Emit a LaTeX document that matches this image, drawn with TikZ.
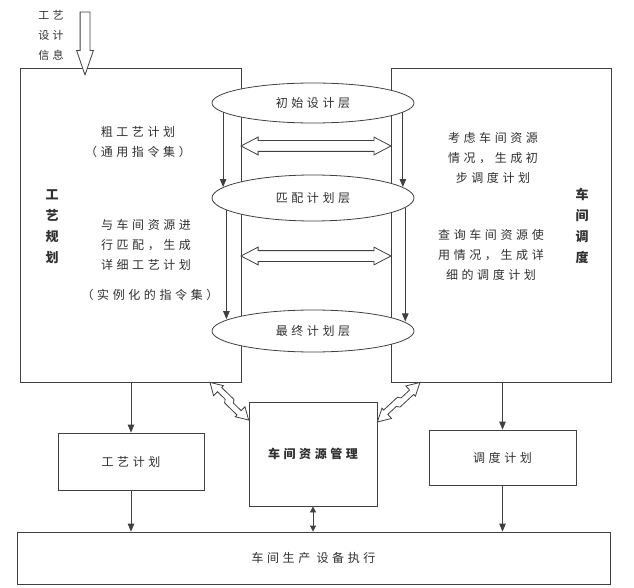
\documentclass[tikz,border=0pt]{standalone}
\usepackage{fontspec}
\setmainfont[LetterSpace=30]{Noto Sans CJK SC}
\usetikzlibrary{shapes.geometric,shapes.arrows,arrows.meta,calc}
\definecolor{ln}{HTML}{404040}
\definecolor{tx}{HTML}{303030}
\tikzset{
 box/.style={draw=ln, fill=white, line width=0.8pt, inner sep=0pt, text=tx, font=\fontsize{12}{20}\selectfont, align=center},
 layer/.style={ellipse, draw=ln, fill=white, line width=0.8pt, minimum width=202pt, inner sep=0pt, font=\fontsize{12}{14}\selectfont, text=tx},
 arr/.style={draw=ln, line width=0.8pt, -{Triangle[length=8pt,width=6.5pt]}},
 darr/.style={draw=ln, line width=0.8pt, {Triangle[length=6pt,width=6pt]}-{Triangle[length=6pt,width=6pt]}},
 harr/.style={double arrow, draw=ln, fill=white, line width=0.8pt, inner xsep=0pt, inner ysep=5pt, double arrow head extend=3.5pt, double arrow tip angle=55},
 zzstyle/.style={draw=ln, fill=white, line width=0.8pt, line join=miter},
 sarr/.style={single arrow, draw=ln, fill=white, line width=0.8pt, inner xsep=0pt, inner ysep=4.5pt, single arrow head extend=3.5pt, single arrow tip angle=38},
 txt/.style={text=tx, font=\fontsize{12}{20}\selectfont, align=center, inner sep=0pt},
 vtxt/.style={text=tx, font=\fontsize{13}{21}\selectfont\bfseries, align=center, inner sep=0pt},
}
% zigzag hollow double arrow between two named coordinates
\newcommand\zzarrow[2]{%
 \filldraw[zzstyle] (#1)
  -- ($(#1)!0.22!(#2)!7pt!90:(#2)$)
  -- ($(#1)!0.22!(#2)!4.5pt!90:(#2)$)
  -- ($(#1)!0.54!(#2)!4.5pt!90:(#2)$)
  -- ($(#1)!0.58!(#2)!1.5pt!90:(#2)$)
  -- ($(#1)!0.78!(#2)!1.5pt!90:(#2)$)
  -- ($(#1)!0.78!(#2)!7pt!90:(#2)$)
  -- (#2)
  -- ($(#1)!0.78!(#2)!-7pt!90:(#2)$)
  -- ($(#1)!0.78!(#2)!-4.5pt!90:(#2)$)
  -- ($(#1)!0.46!(#2)!-4.5pt!90:(#2)$)
  -- ($(#1)!0.42!(#2)!-1.5pt!90:(#2)$)
  -- ($(#1)!0.22!(#2)!-1.5pt!90:(#2)$)
  -- ($(#1)!0.22!(#2)!-7pt!90:(#2)$)
  -- cycle;}
\begin{document}
\begin{tikzpicture}[x=1pt,y=-1pt]
\fill[white] (0,0) rectangle (634,588);
\useasboundingbox (0,0) rectangle (634,588);
% big boxes
\node[box, minimum width=221pt, minimum height=314pt] (L) at (130.5,225) {};
\node[box, minimum width=220pt, minimum height=314pt] (R) at (501,225) {};
% texts in left box
\node[vtxt] (Lt) at (52,226.5) {工\\艺\\规\\划};
\node[txt] (Lt1) at (138,142) {粗工艺计划\\（通用指令集）};
\node[txt] (Lt2) at (146,245) {与车间资源进\\行匹配，生成\\详细工艺计划};
\node[txt] (Lt3) at (150,295) {（实例化的指令集）};
% texts in right box
\node[txt] (Rt1) at (493,157.5) {考虑车间资源\\情况，生成初\\步调度计划};
\node[txt] (Rt2) at (491,255) {查询车间资源使\\用情况，生成详\\细的调度计划};
\node[vtxt] (Rt) at (582,226) {车\\间\\调\\度};
% layers
\node[layer, minimum height=40pt] (E1) at (313,103) {初始设计层};
\node[layer, minimum height=46pt] (E2) at (313,198) {匹配计划层};
\node[layer, minimum height=42pt] (E3) at (313,331) {最终计划层};
\draw[arr] (E1.186) -- (E1.186 |- E2.173);
\draw[arr] (E2.188) -- (E2.188 |- E3.172);
\draw[arr] (E1.354) -- (E1.354 |- E2.7);
\draw[arr] (E2.354) -- (E2.354 |- E3.6);
% horizontal hollow arrows
\coordinate (y1) at (0,146);
\coordinate (y2) at (0,256);
\path (L.east |- y1) -- (R.west |- y1) node[midway, harr, minimum height=150pt] (H1) {};
\path (L.east |- y2) -- (R.west |- y2) node[midway, harr, minimum height=150pt] (H2) {};
% input arrow
\coordinate (inTop) at (85,5);
\path (inTop) -- (inTop |- L.north) node[midway, sarr, minimum height=63pt, rotate=-90] (IA) {};
\node[text=tx, font=\fontsize{11}{20}\selectfont, align=center, inner sep=0pt] (In) at (51,35) {工艺\\设计\\信息};
% bottom boxes
\node[box, minimum width=146pt, minimum height=57pt] (P) at (131,461.5) {工艺计划};
\node[box, minimum width=128pt, minimum height=104pt] (M) at (313,454) {\bfseries 车间资源管理};
\node[box, minimum width=147pt, minimum height=55pt] (S) at (502.5,457.5) {调度计划};
\node[box, minimum width=593pt, minimum height=52pt] (B) at (313.5,558) {车间生产 设备执行};
\draw[arr] (L.south -| P.north) -- (P.north);
\draw[arr] (P.south) -- (P.south |- B.north);
\draw[arr] (R.south -| S.north) -- (S.north);
\draw[arr] (S.south) -- (S.south |- B.north);
\draw[darr] (M.south) -- (M.south |- B.north);
% zigzag hollow arrows
\coordinate (a1) at (L.south -| {210,0});
\coordinate (a2) at (M.west |- {0,420});
\coordinate (b1) at (M.east |- {0,422});
\coordinate (b2) at (R.south -| {420,0});
\zzarrow{a1}{a2}
\zzarrow{b1}{b2}
\end{tikzpicture}
\end{document}
